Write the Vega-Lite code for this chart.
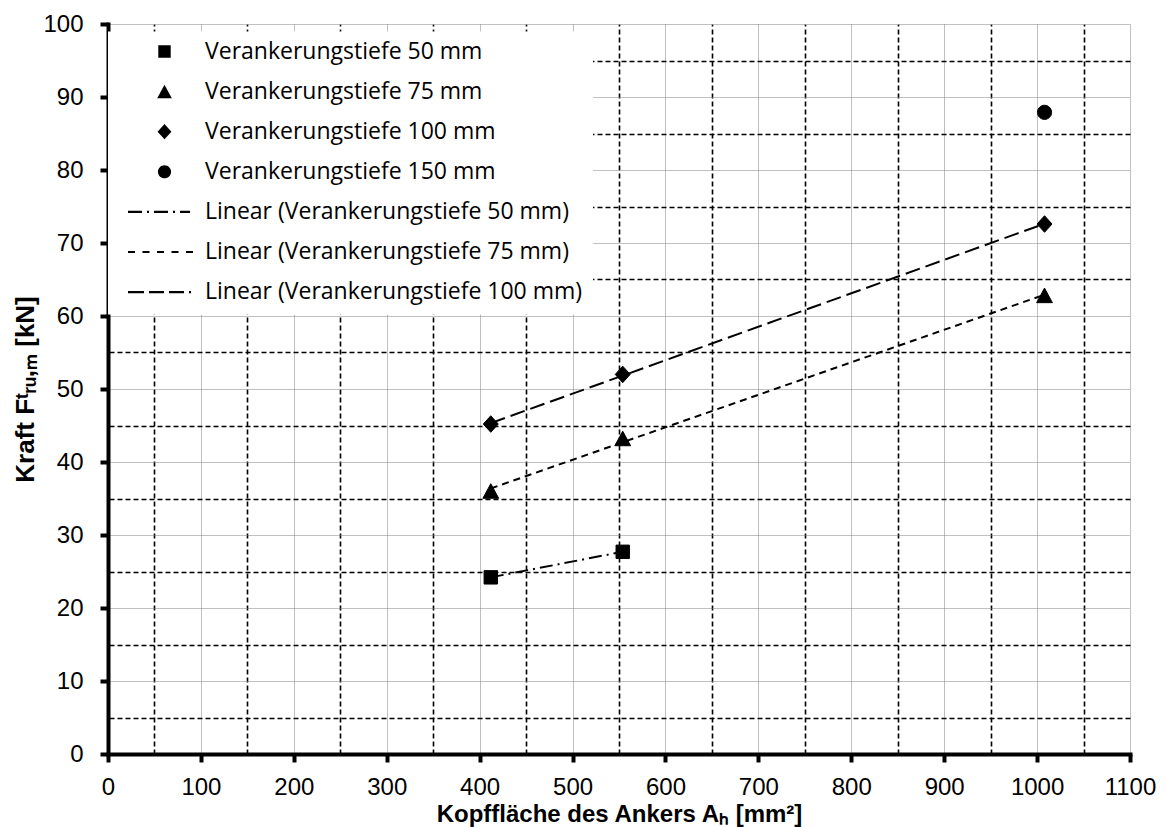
{
  "$schema": "https://vega.github.io/schema/vega-lite/v6.json",
  "width": 1022,
  "height": 730,
  "autosize": "none",
  "padding": {"left": 108, "top": 24, "right": 36, "bottom": 73},
  "background": "white",
  "config": {"view": {"stroke": null}},
  "data": {
    "values": [
      {"A": 412, "F": 24.2, "series": "Verankerungstiefe 50 mm"},
      {"A": 554, "F": 27.7, "series": "Verankerungstiefe 50 mm"},
      {"A": 412, "F": 36.0, "series": "Verankerungstiefe 75 mm"},
      {"A": 554, "F": 43.2, "series": "Verankerungstiefe 75 mm"},
      {"A": 1008, "F": 62.8, "series": "Verankerungstiefe 75 mm"},
      {"A": 412, "F": 45.2, "series": "Verankerungstiefe 100 mm"},
      {"A": 554, "F": 52.0, "series": "Verankerungstiefe 100 mm"},
      {"A": 1008, "F": 72.6, "series": "Verankerungstiefe 100 mm"},
      {"A": 1008, "F": 87.9, "series": "Verankerungstiefe 150 mm"}
    ]
  },
  "layer": [
    {
      "transform": [
        {"filter": "datum.series != 'Verankerungstiefe 150 mm'"},
        {"regression": "F", "on": "A", "groupby": ["series"]}
      ],
      "mark": {"type": "line", "color": "black", "strokeWidth": 2},
      "encoding": {
        "x": {
          "field": "A", "type": "quantitative",
          "scale": {"domain": [0, 1100], "nice": false, "zero": false},
          "axis": {"orient": "top", "values": [50, 150, 250, 350, 450, 550, 650, 750, 850, 950, 1050], "grid": true, "gridColor": "black", "gridDash": [5, 3], "gridWidth": 1.6, "domain": false, "ticks": false, "labels": false, "title": null}
        },
        "y": {
          "field": "F", "type": "quantitative",
          "scale": {"domain": [0, 100], "nice": false, "zero": false},
          "axis": {"orient": "right", "values": [5, 15, 25, 35, 45, 55, 65, 75, 85, 95], "grid": true, "gridColor": "black", "gridDash": [5, 3], "gridWidth": 1.6, "domain": false, "ticks": false, "labels": false, "title": null}
        },
        "strokeDash": {
          "field": "series", "type": "nominal",
          "scale": {"domain": ["Verankerungstiefe 50 mm", "Verankerungstiefe 75 mm", "Verankerungstiefe 100 mm"], "range": [[13, 5, 2, 5], [7, 5], [15, 6]]},
          "legend": null
        }
      }
    },
    {
      "mark": {"type": "point", "filled": true, "size": 6200, "fill": "black", "stroke": "black", "strokeWidth": 1, "opacity": 1},
      "encoding": {
        "x": {
          "field": "A", "type": "quantitative",
          "axis": {"values": [0, 100, 200, 300, 400, 500, 600, 700, 800, 900, 1000, 1100], "format": "d", "grid": true, "gridColor": "#808080", "gridDash": [1, 1], "gridWidth": 1, "domainColor": "black", "domainWidth": 4, "domainCap": "square", "tickColor": "black", "tickWidth": 4, "tickSize": 8, "labelFont": "Liberation Sans", "labelFontSize": 24, "labelColor": "black", "labelPadding": 13, "labelFlush": false, "labelOverlap": false, "title": "Kopffläche des Ankers Aₕ [mm²]", "titleFont": "Liberation Sans", "titleFontWeight": "bold", "titleFontSize": 24, "titleColor": "black", "titlePadding": 3}
        },
        "y": {
          "field": "F", "type": "quantitative",
          "axis": {"values": [0, 10, 20, 30, 40, 50, 60, 70, 80, 90, 100], "format": "d", "grid": true, "gridColor": "#808080", "gridDash": [1, 1], "gridWidth": 1, "domainColor": "black", "domainWidth": 4, "domainCap": "square", "tickColor": "black", "tickWidth": 4, "tickSize": 8, "labelFont": "Liberation Sans", "labelFontSize": 24, "labelColor": "black", "labelPadding": 17, "labelFlush": false, "labelOverlap": false, "title": "Kraft Fᵗᵣᵤ,ₘ [kN]", "titleFont": "Liberation Sans", "titleFontWeight": "bold", "titleFontSize": 26, "titleColor": "black", "titlePadding": 4}
        },
        "shape": {
          "field": "series", "type": "nominal",
          "scale": {
            "domain": ["Verankerungstiefe 50 mm", "Verankerungstiefe 75 mm", "Verankerungstiefe 100 mm", "Verankerungstiefe 150 mm", "Linear (Verankerungstiefe 50 mm)", "Linear (Verankerungstiefe 75 mm)", "Linear (Verankerungstiefe 100 mm)"],
            "range": [
              "M-0.17,-0.17H0.17V0.17H-0.17Z",
              "M0,-0.19L0.2,0.18H-0.2Z",
              "M0,-0.21L0.19,0L0,0.21L-0.19,0Z",
              "M0.18,0A0.18,0.18 0 1,1 -0.18,0A0.18,0.18 0 1,1 0.18,0Z",
              "M-1,-0.03H-0.616V0.03H-1ZM-0.479,-0.03H-0.425V0.03H-0.479ZM-0.288,-0.03H0.096V0.03H-0.288ZM0.233,-0.03H0.288V0.03H0.233ZM0.425,-0.03H0.7V0.03H0.425Z",
              "M-1,-0.03H-0.808V0.03H-1ZM-0.603,-0.03H-0.411V0.03H-0.603ZM-0.205,-0.03H-0.014V0.03H-0.205ZM0.192,-0.03H0.384V0.03H0.192ZM0.589,-0.03H0.781V0.03H0.589Z",
              "M-1,-0.03H-0.562V0.03H-1ZM-0.425,-0.03H-0.014V0.03H-0.425ZM0.123,-0.03H0.534V0.03H0.123ZM0.671,-0.03H0.726V0.03H0.671Z"
            ]
          },
          "legend": {
            "title": null,
            "orient": "none",
            "legendX": 0,
            "legendY": 7.5,
            "fillColor": "white",
            "padding": 10,
            "symbolSize": 5329,
            "symbolStrokeWidth": 0,
            "symbolFillColor": "black",
            "symbolStrokeColor": "black",
            "symbolOpacity": 1,
            "symbolOffset": 10,
            "clipHeight": 20,
            "rowPadding": 17.1,
            "labelFont": "Open Sans",
            "labelFontSize": 23,
            "labelColor": "black",
            "labelOffset": 4,
            "labelLimit": 0,
            "encode": {
              "symbols": {"fill": {"value": "black"}, "strokeWidth": {"value": 0}, "opacity": {"value": 1}}
            }
          }
        }
      }
    }
  ],
  "resolve": {"axis": {"x": "independent", "y": "independent"}}
}
